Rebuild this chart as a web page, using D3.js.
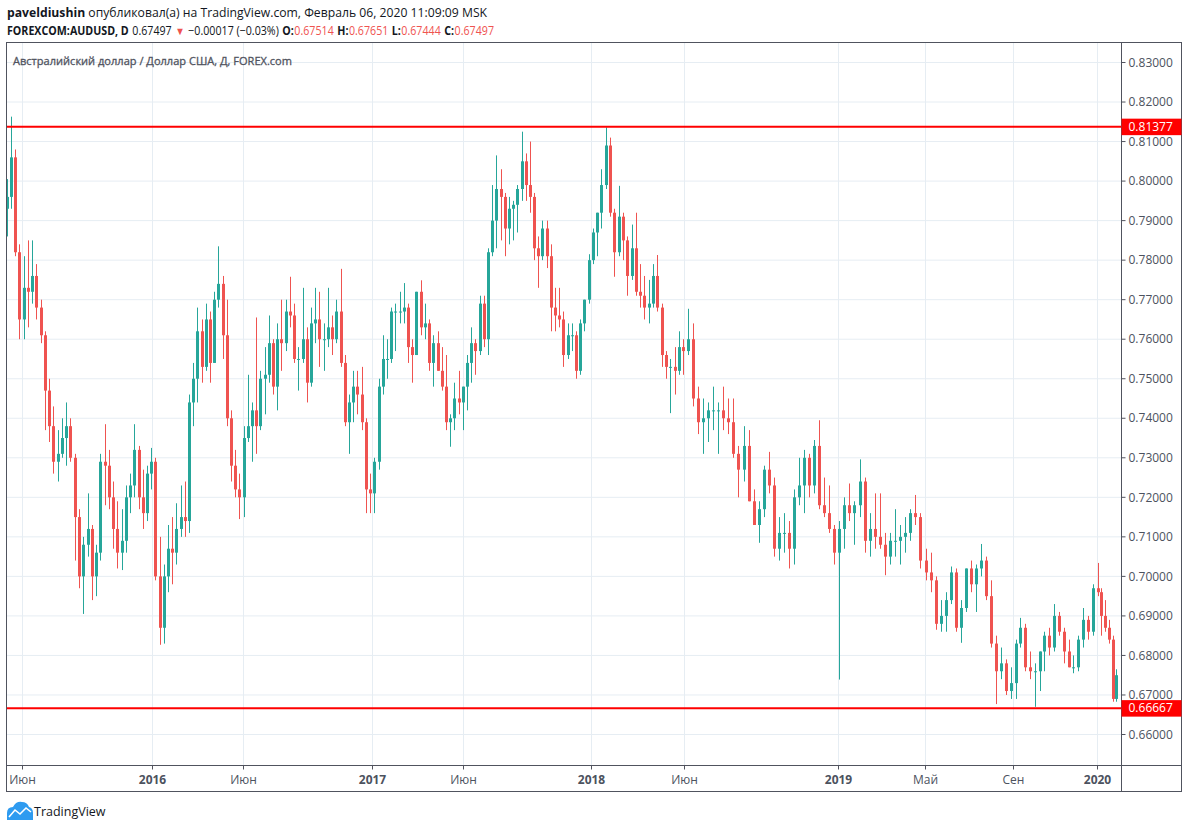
<!DOCTYPE html>
<html>
<head>
<meta charset="utf-8">
<script src="https://d3js.org/d3.v7.min.js"></script>
<style>
  body { margin: 0; background: #fff; }
  svg { font-family: "Open Sans", "Liberation Sans", sans-serif; }
</style>
</head>
<body>
<div id="chart"></div>
<script>
// AUDUSD weekly bars. First week starts Mon 2015-05-04,
// one line per month. Open of a week = close of the week before.
const weekStart = "2015-05-04"
const firstOpen = 0.7930

const high = [
  .8005, .8163, .8080, .7840,                 // 2015-05
  .7810, .7850, .7850, .7790, .7700,          // 06
  .7620, .7500, .7430, .7370,                 // 07
  .7400, .7440, .7400, .7310, .7170,          // 08
  .7100, .7210, .7130, .7080,                 // 09
  .7310, .7385, .7320, .7240,                 // 10
  .7190, .7170, .7230, .7260, .7385,          // 11
  .7330, .7270, .7280, .7325,                 // 12
  .7300, .7100, .7030, .7130,                 // 2016-01
  .7150, .7185, .7230, .7240, .7460,          // 02
  .7540, .7680, .7650, .7690,                 // 03
  .7670, .7720, .7835, .7760,                 // 04
  .7700, .7420, .7320, .7260, .7380,          // 05
  .7510, .7440, .7655, .7520,                 // 06
  .7580, .7660, .7600, .7640,                 // 07
  .7700, .7700, .7758, .7690, .7580,          // 08
  .7730, .7630, .7680, .7730,                 // 09
  .7720, .7640, .7730, .7660, .7700,          // 10
  .7778, .7560, .7460, .7520,                 // 11
  .7520, .7530, .7400, .7260,                 // 12
  .7300, .7500, .7610, .7600, .7680,          // 2017-01
  .7690, .7720, .7742, .7690,                 // 02
  .7600, .7720, .7749, .7690,                 // 03
  .7650, .7610, .7620, .7580,                 // 04
  .7560, .7410, .7490, .7520, .7480,          // 05
  .7560, .7630, .7600, .7710,                 // 06
  .7710, .7830, .7990, .8065, .8030,          // 07
  .7970, .7960, .7950, .7990,                 // 08
  .8125, .8070, .8100, .7970,                 // 09
  .7860, .7900, .7900, .7840, .7730,          // 10
  .7730, .7670, .7640, .7640,                 // 11
  .7620, .7650, .7700, .7815,                 // 12
  .7880, .7920, .8030, .8136, .8110,          // 2018-01
  .7930, .7988, .7920, .7860,                 // 02
  .7890, .7920, .7790, .7760,                 // 03
  .7750, .7790, .7813, .7690, .7570,          // 04
  .7550, .7580, .7620, .7600,                 // 05
  .7677, .7640, .7480, .7450,                 // 06
  .7440, .7480, .7440, .7480, .7450,          // 07
  .7450, .7330, .7380, .7370,                 // 08
  .7220, .7190, .7280, .7315,                 // 09
  .7250, .7150, .7160, .7140, .7220,          // 10
  .7300, .7320, .7310, .7345,                 // 11
  .7395, .7250, .7230, .7130, .7140,          // 12
  .7200, .7235, .7190, .7296,                 // 2019-01
  .7250, .7160, .7210, .7210,                 // 02
  .7110, .7110, .7170, .7130,                 // 03
  .7150, .7170, .7206, .7160, .7070,          // 04
  .7060, .7000, .6940, .6960,                 // 05
  .7025, .7020, .6940, .7020,                 // 06
  .7040, .7030, .7082, .7050, .6990,          // 07
  .6850, .6820, .6790, .6770,                 // 08
  .6840, .6895, .6880, .6810, .6780,          // 09
  .6810, .6860, .6870, .6930,                 // 10
  .6910, .6870, .6840, .6800,                 // 11
  .6850, .6920, .6900, .6980, .7034,          // 12
  .6970, .6940, .6890, .6850,                 // 2020-01
  .6765                                       // 02
]

const low = [
  .7860, .7930, .7810, .7600,
  .7600, .7630, .7690, .7650, .7590,
  .7370, .7340, .7260, .7240,
  .7300, .7280, .7290, .7040, .6970,
  .6905, .7050, .6940, .6950,
  .7040, .7180, .7170, .7070,
  .7020, .7016, .7060, .7160, .7200,
  .7170, .7120, .7140, .7220,
  .6990, .6827, .6830, .6960,
  .6980, .7030, .7100, .7100, .7110,
  .7380, .7440, .7490, .7520,
  .7490, .7540, .7680, .7550,
  .7380, .7240, .7200, .7145, .7150,
  .7340, .7290, .7310, .7370,
  .7410, .7490, .7460, .7420,
  .7520, .7570, .7630, .7540, .7470,
  .7540, .7440, .7480, .7590,
  .7530, .7520, .7580, .7560, .7590,
  .7530, .7380, .7310, .7390,
  .7410, .7370, .7160, .7160,
  .7160, .7270, .7460, .7500, .7540,
  .7570, .7640, .7640, .7540,
  .7490, .7560, .7610, .7600,
  .7520, .7480, .7520, .7470,
  .7370, .7328, .7370, .7410, .7370,
  .7420, .7490, .7510, .7560,
  .7580, .7560, .7810, .7830, .7850,
  .7810, .7840, .7850, .7870,
  .7950, .7950, .7920, .7800,
  .7730, .7800, .7780, .7620, .7620,
  .7630, .7530, .7550, .7570,
  .7500, .7510, .7620, .7690,
  .7790, .7810, .7880, .7980, .7910,
  .7758, .7810, .7800, .7710,
  .7750, .7710, .7680, .7650,
  .7640, .7680, .7670, .7530, .7500,
  .7413, .7460, .7510, .7510,
  .7560, .7430, .7360, .7310,
  .7340, .7370, .7310, .7370, .7360,
  .7300, .7200, .7240, .7190,
  .7130, .7085, .7150, .7210,
  .7050, .7040, .7060, .7020, .7030,
  .7180, .7160, .7200, .7210,
  .7170, .7150, .7110, .7030, .6739,
  .7070, .7140, .7080, .7150,
  .7060, .7050, .7070, .7070,
  .7003, .7030, .7050, .7030,
  .7060, .7090, .7130, .7020, .6990,
  .6960, .6865, .6860, .6860,
  .6930, .6860, .6832, .6910,
  .6960, .6910, .7000, .6940, .6820,
  .6677, .6740, .6700, .6690,
  .6690, .6820, .6760, .6740, .6670,
  .6710, .6760, .6800, .6810,
  .6850, .6780, .6770, .6755,
  .6760, .6820, .6840, .6850, .6950,
  .6850, .6860, .6830, .6683,
  .6683
]

const close = [
  .7960, .8060, .7820, .7650,
  .7730, .7720, .7760, .7680, .7610,
  .7470, .7380, .7290, .7310,
  .7350, .7380, .7300, .7150, .7000,
  .7080, .7120, .7000, .7060,
  .7290, .7280, .7200, .7120,
  .7060, .7090, .7200, .7230, .7320,
  .7200, .7160, .7260, .7290,
  .7000, .6870, .7000, .7070,
  .7060, .7120, .7150, .7140, .7440,
  .7500, .7620, .7530, .7650,
  .7540, .7700, .7740, .7610,
  .7400, .7280, .7220, .7200, .7350,
  .7380, .7420, .7380, .7500,
  .7510, .7590, .7480, .7600,
  .7590, .7670, .7660, .7550, .7550,
  .7600, .7490, .7640, .7650,
  .7600, .7600, .7630, .7600, .7670,
  .7540, .7390, .7440, .7480,
  .7460, .7390, .7220, .7210,
  .7290, .7480, .7550, .7550, .7670,
  .7670, .7670, .7680, .7580,
  .7560, .7720, .7630, .7640,
  .7540, .7590, .7520, .7480,
  .7390, .7400, .7450, .7440, .7480,
  .7540, .7590, .7570, .7690,
  .7600, .7820, .7900, .7980, .7960,
  .7880, .7930, .7940, .7980,
  .8050, .7990, .7960, .7830,
  .7810, .7880, .7810, .7680, .7660,
  .7650, .7560, .7610, .7610,
  .7520, .7640, .7700, .7800,
  .7870, .7920, .7990, .8090, .7920,
  .7820, .7910, .7850, .7760,
  .7830, .7720, .7710, .7680,
  .7690, .7760, .7680, .7560, .7530,
  .7530, .7520, .7580, .7570,
  .7600, .7450, .7390, .7400,
  .7420, .7420, .7420, .7400, .7390,
  .7310, .7270, .7330, .7190,
  .7130, .7170, .7270, .7230,
  .7070, .7110, .7110, .7070, .7200,
  .7230, .7300, .7230, .7330,
  .7180, .7160, .7120, .7060, .7120,
  .7180, .7160, .7180, .7240,
  .7090, .7120, .7100, .7080,
  .7050, .7090, .7090, .7100,
  .7110, .7160, .7150, .7040, .7010,
  .6990, .6880, .6900, .6940,
  .7010, .6870, .6920, .7020,
  .6980, .7020, .7040, .6950, .6830,
  .6760, .6780, .6710, .6730,
  .6830, .6870, .6770, .6760, .6760,
  .6810, .6850, .6820, .6900,
  .6860, .6810, .6770, .6770,
  .6840, .6890, .6860, .6970, .6960,
  .6900, .6870, .6840, .6690,
  .6750
]

// horizontal levels drawn on the chart
const levels = [0.81377, 0.66667]

// price axis ticks
const priceTicks = [0.66, 0.67, 0.68, 0.69, 0.70, 0.71, 0.72, 0.73, 0.74, 0.75,
                    0.76, 0.77, 0.78, 0.79, 0.80, 0.81, 0.82, 0.83]

// time axis labels (first bar of each labelled month)
const timeTickDates = ["2015-06-01", "2016-01-01", "2016-06-01", "2017-01-01", "2017-06-01",
                       "2018-01-01", "2018-06-01", "2019-01-01", "2019-05-01", "2019-09-01", "2020-01-01"]
const timeTickLabels = ["Июн", "2016", "Июн", "2017", "Июн", "2018", "Июн", "2019", "Май", "Сен", "2020"]
const lastBarDate = "2020-02-06"

// legend line: [text, bold, red]
const legendParts = [
  ["FOREXCOM:AUDUSD, D", true, false], ["0.67497", false, false], ["▼", false, true],
  ["−0.00017 (−0.03%)", false, false],
  ["O:", true, false], ["0.67514", false, true], ["H:", true, false], ["0.67651", false, true],
  ["L:", true, false], ["0.67444", false, true], ["C:", true, false], ["0.67497", false, true]
]

const width = 1188, height = 830
const plot = {left: 6.5, top: 42.5, right: 1121.5, bottom: 765.5}
const outer = {right: 1181.5, bottom: 791.5}
const upColor = "#26a69a", downColor = "#ef5350"
const gridColor = "#e6edf3"
const textColor = "#131722"

const parse = d3.timeParse("%Y-%m-%d")

// bars are spaced by trading days, not calendar days (the feed adds sunday
// bars from mid 2018), so the time scale is pinned at each labelled month
const x = d3.scaleTime()
  .domain(timeTickDates.concat([lastBarDate]).map(parse))
  .range([22.5, 152.5, 243.5, 372.5, 463.5, 591.5, 684.5, 838.5, 925.5, 1013.5, 1097.5, 1117])

const y = d3.scaleLinear().domain([0.66, 0.83]).range([734.5, 62.5])

const start = parse(weekStart)
const bars = close.map((c, i) => {
  const o = i ? close[i - 1] : firstOpen
  const mid = d3.timeDay.offset(start, i * 7 + 2)
  return {
    date: mid,
    o: o, c: c,
    h: Math.max(high[i], o, c),
    l: Math.min(low[i], o, c)
  }
})

const svg = d3.select("#chart").append("svg")
  .attr("width", width).attr("height", height)
  .attr("viewBox", [0, 0, width, height])

svg.append("rect").attr("width", width).attr("height", height).attr("fill", "#fff")

// header
const head1 = svg.append("text").attr("x", 7).attr("y", 17)
  .attr("font-size", 12.2).attr("fill", textColor)
head1.append("tspan").attr("font-weight", "bold").text("paveldiushin")
head1.append("tspan").text(" опубликовал(а) на TradingView.com, Февраль 06, 2020 11:09:09 MSK")

// legend pieces laid out one after another, then squeezed to the original span
const legend = svg.append("g")
let cursor = 0
legendParts.forEach(([t, bold, red], i) => {
  const gap = i === 0 ? 0 : (legendParts[i - 1][0].endsWith(":") ? 0.5 : 4)
  cursor += gap
  const node = legend.append("text").attr("x", cursor).attr("y", 0)
    .attr("font-size", t === "▼" ? 11 : 12.2)
    .attr("font-weight", bold ? "bold" : null)
    .attr("fill", red ? downColor : textColor)
    .text(t)
  cursor += node.node().getComputedTextLength()
})
legend.attr("transform", `translate(7,35) scale(${Math.min(1, 487 / cursor)},1)`)

// grid
const grid = svg.append("g").attr("stroke", gridColor).attr("stroke-width", 1)
grid.selectAll("line.h").data(priceTicks).join("line")
  .attr("class", "h")
  .attr("x1", plot.left).attr("x2", plot.right)
  .attr("y1", d => y(d)).attr("y2", d => y(d))
grid.selectAll("line.v").data(timeTickDates).join("line")
  .attr("class", "v")
  .attr("x1", d => x(parse(d))).attr("x2", d => x(parse(d)))
  .attr("y1", plot.top).attr("y2", plot.bottom)

// title inside the pane
svg.append("text").attr("x", 13).attr("y", 65)
  .attr("font-size", 11.6).attr("fill", "#50535e")
  .attr("stroke", "#50535e").attr("stroke-width", 0.3)
  .attr("textLength", 279).attr("lengthAdjust", "spacingAndGlyphs")
  .text("Австралийский доллар / Доллар США, Д, FOREX.com")

// candles
svg.append("clipPath").attr("id", "pane")
  .append("rect").attr("x", plot.left).attr("y", plot.top)
  .attr("width", plot.right - plot.left).attr("height", plot.bottom - plot.top)

const candles = svg.append("g").attr("clip-path", "url(#pane)")
  .selectAll("g").data(bars).join("g")
  .attr("fill", d => d.c >= d.o ? upColor : downColor)

candles.append("rect")
  .attr("x", d => Math.round(x(d.date)))
  .attr("width", 1)
  .attr("y", d => y(d.h))
  .attr("height", d => y(d.l) - y(d.h))

candles.append("rect")
  .attr("x", d => Math.round(x(d.date)) - 1)
  .attr("width", 3)
  .attr("y", d => y(Math.max(d.o, d.c)))
  .attr("height", d => Math.max(1, Math.abs(y(d.o) - y(d.c))))

// levels
svg.append("g").selectAll("line").data(levels).join("line")
  .attr("x1", plot.left).attr("x2", plot.right)
  .attr("y1", d => y(d)).attr("y2", d => y(d))
  .attr("stroke", "#ff0000").attr("stroke-width", 2)

// frame
const frame = svg.append("g").attr("stroke", "#50535e").attr("fill", "none")
frame.append("rect").attr("x", plot.left).attr("y", plot.top)
  .attr("width", outer.right - plot.left).attr("height", outer.bottom - plot.top)
frame.append("line").attr("x1", plot.right).attr("x2", plot.right)
  .attr("y1", plot.top).attr("y2", outer.bottom)
frame.append("line").attr("x1", plot.left).attr("x2", outer.right)
  .attr("y1", plot.bottom).attr("y2", plot.bottom)

// price axis
const yAxis = svg.append("g")
yAxis.selectAll("line").data(priceTicks).join("line")
  .attr("x1", plot.right).attr("x2", plot.right + 4)
  .attr("y1", d => y(d)).attr("y2", d => y(d))
  .attr("stroke", "#50535e")
yAxis.selectAll("text").data(priceTicks).join("text")
  .attr("x", plot.right + 7).attr("y", d => y(d)).attr("dy", "0.35em")
  .attr("font-size", 12).attr("fill", "#4c525e")
  .text(d => d3.format(".5f")(d))

const tags = svg.append("g").selectAll("g").data(levels).join("g")
tags.append("rect")
  .attr("x", plot.right).attr("y", d => y(d) - 8)
  .attr("width", outer.right - plot.right).attr("height", 16.5)
  .attr("fill", "#ff0000")
tags.append("text")
  .attr("x", plot.right + 7).attr("y", d => y(d)).attr("dy", "0.35em")
  .attr("font-size", 12).attr("fill", "#fff")
  .text(d => d3.format(".5f")(d))

// time axis
const xAxis = svg.append("g")
xAxis.selectAll("line").data(timeTickDates).join("line")
  .attr("x1", d => x(parse(d))).attr("x2", d => x(parse(d)))
  .attr("y1", plot.bottom).attr("y2", plot.bottom + 4)
  .attr("stroke", "#50535e")
xAxis.selectAll("text").data(timeTickDates).join("text")
  .attr("x", d => x(parse(d))).attr("y", 784)
  .attr("text-anchor", "middle").attr("font-size", 12).attr("fill", "#4c525e")
  .attr("font-weight", (d, i) => /^\d/.test(timeTickLabels[i]) ? "bold" : null)
  .text((d, i) => timeTickLabels[i])

// footer logo
const logo = svg.append("g")
logo.append("path")
  .attr("d", "M7,820 L7,813 Q7,807 13,807 Q16,801 22,802 Q27,802 29,807 Q33,808 33,813 L33,820 Z")
  .attr("fill", "#2e9bf0")
logo.append("path")
  .attr("d", "M9,817 L15,810 L20,814 L26,808 L31,812")
  .attr("fill", "none").attr("stroke", "#fff").attr("stroke-width", 1.6)
svg.append("text").attr("x", 34).attr("y", 816)
  .attr("font-size", 12.5).attr("fill", textColor)
  .text("TradingView")
</script>
</body>
</html>
